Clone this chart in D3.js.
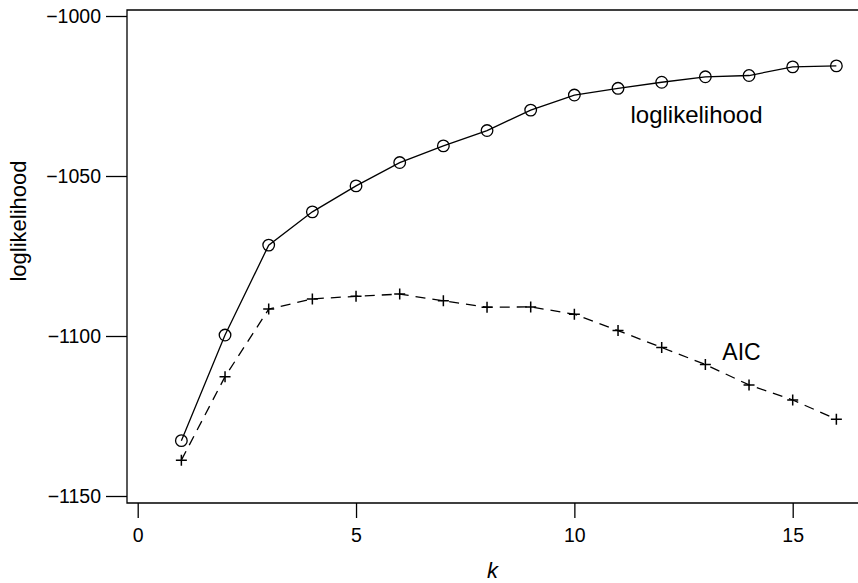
<!DOCTYPE html>
<html>
<head>
<meta charset="utf-8">
<script src="https://cdn.jsdelivr.net/npm/d3@7"></script>
<style>
  html, body { margin: 0; padding: 0; background: #fff; }
  svg { display: block; }
  text { font-family: "Liberation Sans", Arial, Helvetica, sans-serif; fill: #000; }
</style>
</head>
<body>
<svg id="chart" width="858" height="583"></svg>
<script>
const ks = [1,2,3,4,5,6,7,8,9,10,11,12,13,14,15,16];
const loglik = [-1132.7,-1099.7,-1071.6,-1061.2,-1053.1,-1045.8,-1040.6,-1035.8,-1029.4,-1024.7,-1022.6,-1020.7,-1019.0,-1018.6,-1015.9,-1015.6];
const aic = [-1138.8,-1112.7,-1091.6,-1088.4,-1087.6,-1086.9,-1089.0,-1091.0,-1090.9,-1093.2,-1098.3,-1103.6,-1108.9,-1115.3,-1120.0,-1126.0];
const xTicks = [0,5,10,15];
const yTicks = [-1000,-1050,-1100,-1150];
const seriesLabels = ["loglikelihood","AIC"];
const xTitle = "k";
const yTitle = "loglikelihood";

const svg = d3.select("#chart");
const W = 858, H = 583;
const box = {left:127, top:10, right:862, bottom:503};

const x = d3.scaleLinear().domain([0,15]).range([137.7, 792.7]);
const y = d3.scaleLinear().domain([-1000,-1150]).range([16, 496]);

// frame (left, top, bottom; right edge falls outside picture)
svg.append("path")
  .attr("d", `M${box.right},${box.top}H${box.left}V${box.bottom}H${box.right}`)
  .attr("fill","none").attr("stroke","#000").attr("stroke-width",1.3);

// axes
const fmt = d => (d < 0 ? "\u2212" + Math.abs(d) : String(d));
const xa = svg.append("g").attr("transform",`translate(0,${box.bottom})`)
  .call(d3.axisBottom(x).tickValues(xTicks).tickSize(15).tickPadding(10).tickFormat(fmt));
const ya = svg.append("g").attr("transform",`translate(${box.left},0)`)
  .call(d3.axisLeft(y).tickValues(yTicks).tickSize(21).tickPadding(5).tickFormat(fmt));
[xa, ya].forEach(g => {
  g.select(".domain").remove();
  g.selectAll(".tick line").attr("stroke","#000").attr("stroke-width",1.3);
  g.selectAll(".tick text").attr("font-size",19.5).attr("font-family","Liberation Sans, Arial, sans-serif").attr("fill","#000");
});

// lines
const line = (vals) => d3.line().x((d,i)=>x(ks[i])).y(d=>y(d))(vals);
svg.append("path").attr("d", line(loglik)).attr("fill","none")
  .attr("stroke","#000").attr("stroke-width",1.3);
svg.append("path").attr("d", line(aic)).attr("fill","none")
  .attr("stroke","#000").attr("stroke-width",1.3).attr("stroke-dasharray","10,7");

// markers
svg.append("g").selectAll("circle").data(loglik).join("circle")
  .attr("cx",(d,i)=>x(ks[i])).attr("cy",d=>y(d)).attr("r",5.8)
  .attr("fill","none").attr("stroke","#000").attr("stroke-width",1.3);
svg.append("g").selectAll("path").data(aic).join("path")
  .attr("d",(d,i)=>{const cx=x(ks[i]), cy=y(d), s=5.5; return `M${cx-s},${cy}H${cx+s}M${cx},${cy-s}V${cy+s}`;})
  .attr("fill","none").attr("stroke","#000").attr("stroke-width",1.5);

// series labels
svg.append("text").attr("x",696.5).attr("y",122.5).attr("text-anchor","middle")
  .attr("font-size",24).text(seriesLabels[0]);
svg.append("text").attr("x",741.5).attr("y",360).attr("text-anchor","middle")
  .attr("font-size",23).text(seriesLabels[1]);

// axis titles
svg.append("text").attr("x",(box.left+W)/2).attr("y",578).attr("text-anchor","middle")
  .attr("font-size",22).attr("font-style","italic").text(xTitle);
svg.append("text").attr("transform","translate(26,221) rotate(-90)").attr("text-anchor","middle")
  .attr("font-size",22).text(yTitle);
</script>
</body>
</html>
